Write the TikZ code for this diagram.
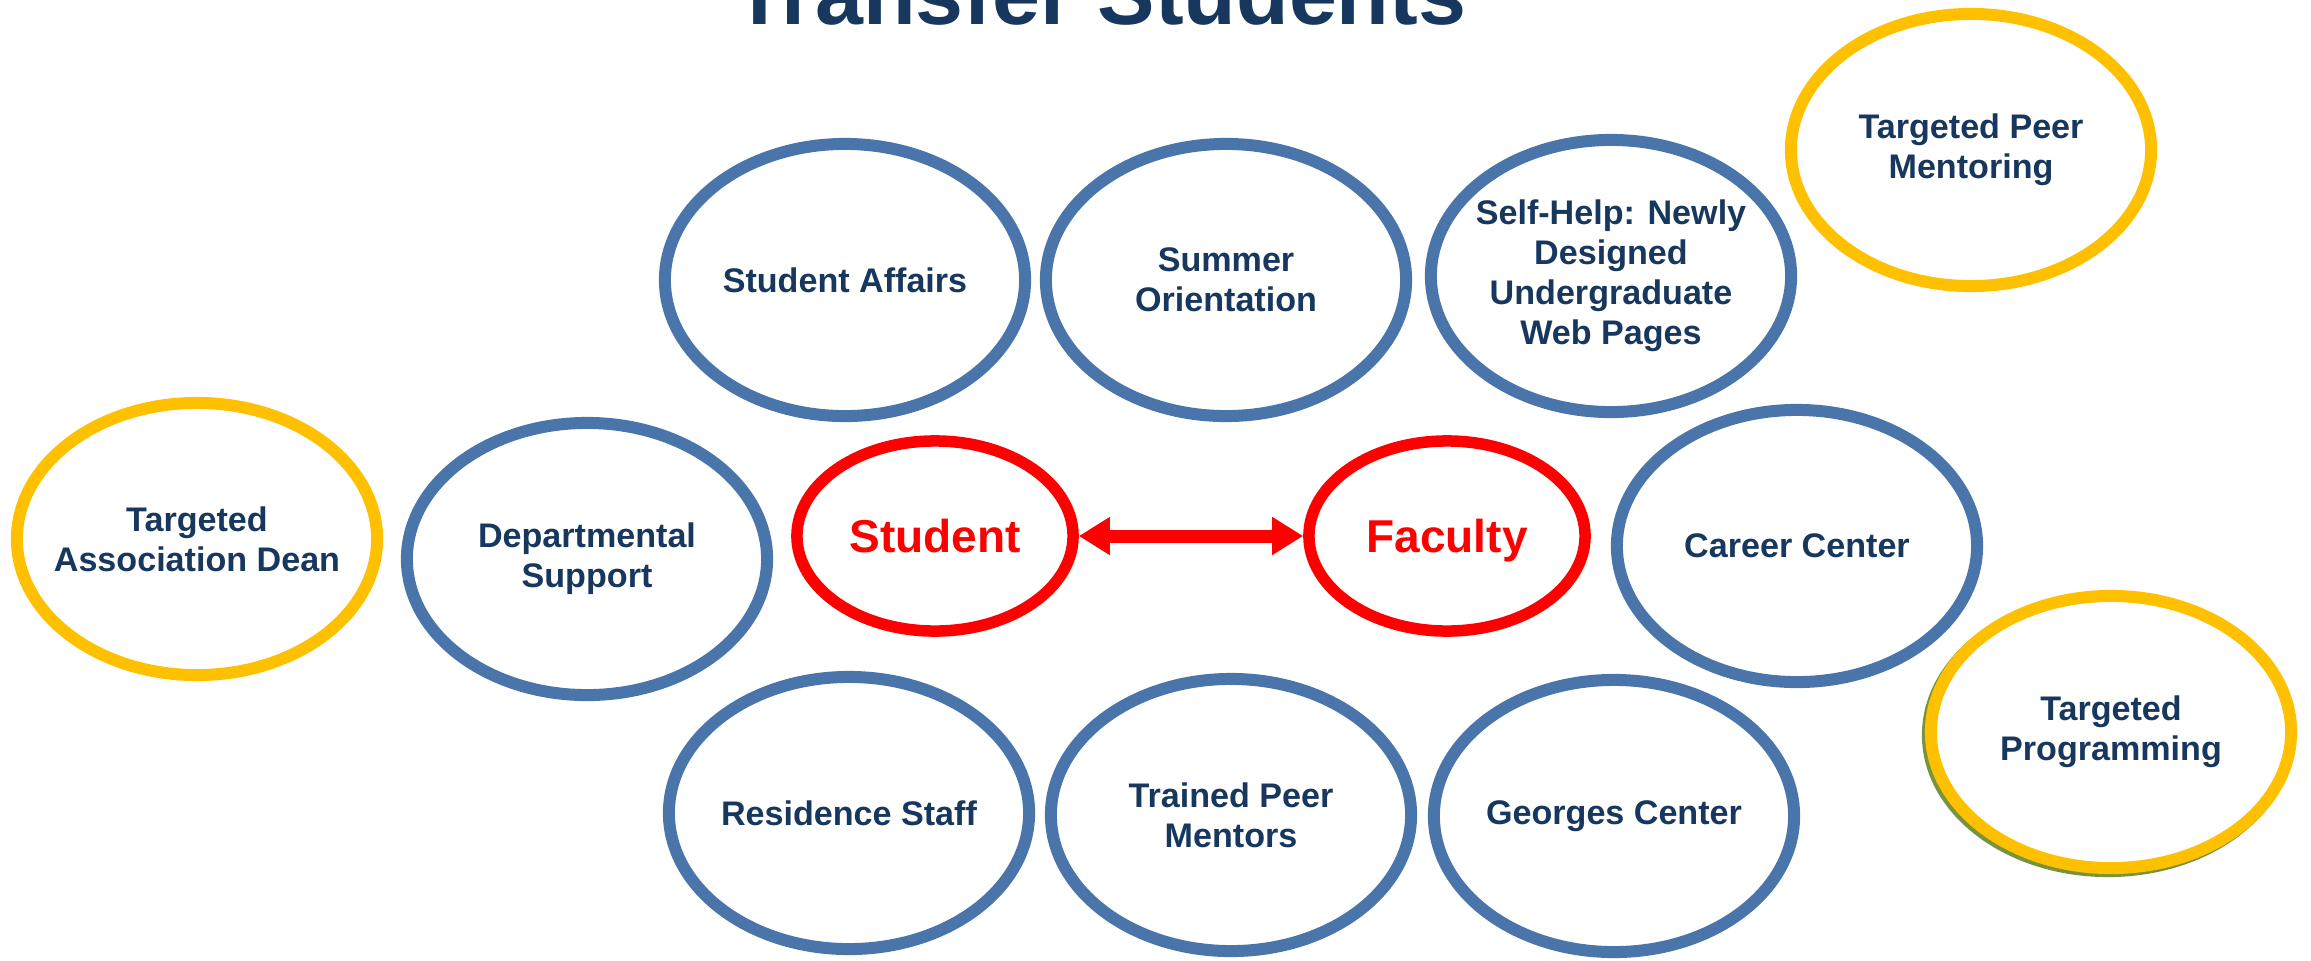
\documentclass[tikz,border=0pt]{standalone}
\usepackage{fontspec}
\setmainfont{Liberation Sans}
\usetikzlibrary{shapes.geometric,arrows.meta}
\definecolor{ellblue}{HTML}{4A75AA}
\definecolor{navy}{HTML}{17375E}
\definecolor{gold}{HTML}{FFC000}
\definecolor{olivesh}{HTML}{77933C}
\begin{document}
\begin{tikzpicture}[x=0.01cm,y=-0.01cm,
  ring/.style={ellipse, draw, line width=0.12cm, minimum width=3.6cm, minimum height=2.72cm, inner sep=0pt},
  bluering/.style={ring, draw=ellblue},
  goldring/.style={ring, draw=gold},
  redring/.style={ring, draw=red, line width=0.115cm, minimum width=2.76cm, minimum height=1.9cm},
  lbl/.style={text=navy, font=\bfseries\fontsize{9.7}{11.4}\selectfont, align=center, inner sep=0pt},
  redlbl/.style={text=red, font=\bfseries\fontsize{13.1}{15}\selectfont, inner sep=0pt, anchor=base},
  titlestyle/.style={text=navy, font=\bfseries\fontsize{24.5}{28}\selectfont, inner sep=0pt, anchor=base}
]
\useasboundingbox (0,0) rectangle (2311,960);

\node[titlestyle] (title) at (1100,24) {Transfer Students};

% top row
\node[bluering] (sa) at (845,280) {};
\node[lbl] (sa-t) at (sa) {Student Affairs};
\node[bluering] (so) at (1226,280) {};
\node[lbl] (so-t) at (so) {Summer\\Orientation};
\node[bluering] (sh) at (1611,276) {};
\node[lbl] (sh-t) at (sh) {Self-Help: Newly\\Designed\\Undergraduate\\Web Pages};
\node[goldring] (pm) at (1971,150) {};
\node[lbl] (pm-t) at (pm) {Targeted Peer\\Mentoring};

% middle row
\node[goldring] (ad) at (197,539) {};
\node[lbl] (ad-t) at (ad) {Targeted\\Association Dean};
\node[bluering] (ds) at (587,559) {};
\node[lbl] (ds-t) at (ds) {Departmental\\Support};
\node[redring] (st) at (935,536) {};
\node[redlbl] (st-t) at ([yshift=-0.165cm]st.center) {Student};
\node[redring] (fa) at (1447,536) {};
\node[redlbl] (fa-t) at ([yshift=-0.165cm]fa.center) {Faculty};
\node[bluering] (cc) at (1797,546) {};
\node[lbl] (cc-t) at (cc) {Career Center};
\node[ring, draw=olivesh] (tp-sh) at (2108,735) {};
\node[goldring, fill=white] (tp) at (2111,732) {};
\node[lbl] (tp-t) at (tp) {Targeted\\Programming};

% bottom row
\node[bluering] (rs) at (849,813) {};
\node[lbl] (rs-t) at (rs) {Residence Staff};
\node[bluering] (tm) at (1231,815) {};
\node[lbl] (tm-t) at (tm) {Trained Peer\\Mentors};
\node[bluering] (gc) at (1614,816) {};
\node[lbl] (gc-t) at (gc) {Georges Center};

% arrow
\draw[red, line width=0.13cm, {Triangle[length=0.31cm,width=0.36cm]}-{Triangle[length=0.31cm,width=0.36cm]}] (st.east) -- (fa.west);
\end{tikzpicture}
\end{document}
